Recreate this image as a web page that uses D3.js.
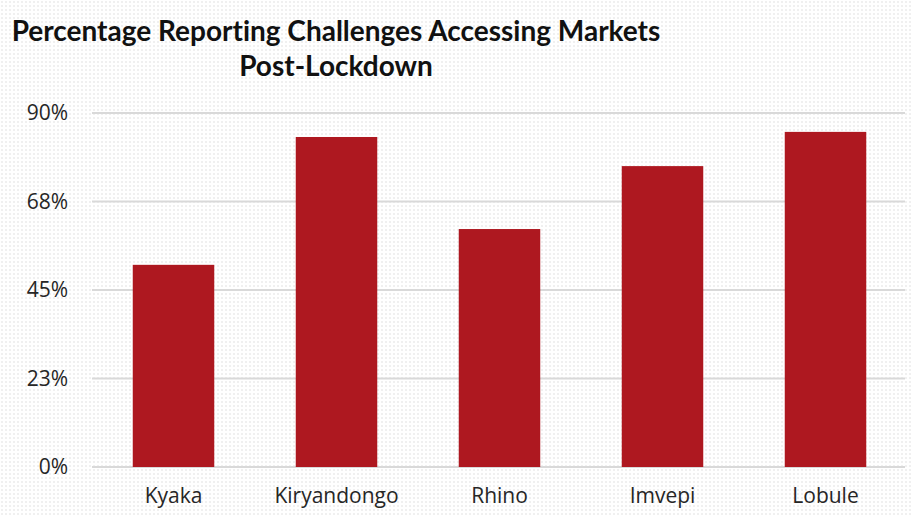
<!DOCTYPE html>
<html>
<head>
<meta charset="utf-8">
<script src="https://cdn.jsdelivr.net/npm/d3@7"></script>
<style>
  html, body { margin: 0; padding: 0; background: #fff; }
  svg { display: block; }
  text { font-variant-ligatures: none; }
</style>
</head>
<body>
<script>
// Settlements surveyed and share reporting market-access challenges
const categories = ["Kyaka", "Kiryandongo", "Rhino", "Imvepi", "Lobule"];
const values = [0.514, 0.839, 0.605, 0.765, 0.852];
const tickValues = [0, 0.225, 0.45, 0.675, 0.9];
const tickLabels = ["0%", "23%", "45%", "68%", "90%"];
const titleLines = ["Percentage Reporting Challenges Accessing Markets", "Post-Lockdown"];

const W = 911, H = 515;
const svg = d3.select("body").append("svg").attr("width", W).attr("height", H);

// dotted paper texture behind the chart
const defs = svg.append("defs");
const pat = defs.append("pattern").attr("id", "dots")
  .attr("width", 4).attr("height", 4).attr("patternUnits", "userSpaceOnUse");
pat.append("rect").attr("width", 4).attr("height", 4).attr("fill", "#ffffff");
pat.append("rect").attr("x", 1).attr("y", 1).attr("width", 2).attr("height", 2).attr("fill", "#f0f0f0");
svg.append("rect").attr("width", W).attr("height", H).attr("fill", "url(#dots)");

const x = d3.scaleBand().domain(categories).range([92, 907]).paddingInner(0.5).paddingOuter(0.25);
const y = d3.scaleLinear().domain([0, 0.9]).range([467, 113]);

// horizontal gridlines
svg.append("g").selectAll("line").data(tickValues).join("line")
  .attr("x1", 92).attr("x2", 905)
  .attr("y1", d => y(d)).attr("y2", d => y(d))
  .attr("stroke", "#d9d9d9").attr("stroke-width", 2);

// y axis labels
const yAxis = d3.axisLeft(y).tickValues(tickValues).tickSize(0).tickPadding(0)
  .tickFormat((d, i) => tickLabels[i]);
const gy = svg.append("g").attr("transform", "translate(68,0)").call(yAxis);
gy.select(".domain").remove();
gy.selectAll("text").attr("font-family", "'Open Sans', sans-serif")
  .attr("font-size", 21).attr("fill", "#262626");

// bars
svg.append("g").selectAll("rect").data(values).join("rect")
  .attr("x", (d, i) => x(categories[i]))
  .attr("width", x.bandwidth())
  .attr("y", d => y(d))
  .attr("height", d => y(0) - y(d))
  .attr("fill", "#ae1820");

// category labels
const xAxis = d3.axisBottom(x).tickSize(0).tickPadding(0);
const gx = svg.append("g").attr("transform", "translate(0,488)").call(xAxis);
gx.select(".domain").remove();
gx.selectAll("text").attr("font-family", "'Open Sans', sans-serif")
  .attr("font-size", 21).attr("fill", "#262626");

// title
svg.append("g").selectAll("text").data(titleLines).join("text")
  .attr("x", 336).attr("y", (d, i) => 41 + i * 35)
  .attr("text-anchor", "middle")
  .attr("font-family", "Lato, sans-serif").attr("font-weight", "bold")
  .attr("font-size", 28).attr("fill", "#111")
  .text(d => d);
</script>
</body>
</html>
